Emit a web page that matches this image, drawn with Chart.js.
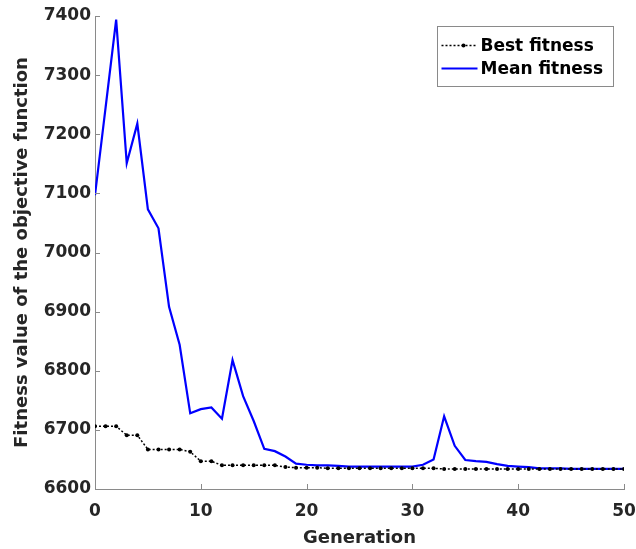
<!DOCTYPE html>
<html>
<head>
<meta charset="utf-8">
<script src="https://cdn.jsdelivr.net/npm/chart.js@4.4.0/dist/chart.umd.min.js"></script>
<style>
  html, body { margin: 0; padding: 0; background: #fff; }
  #wrap { width: 636px; height: 549px; }
</style>
</head>
<body>
<div id="wrap"><canvas id="fitChart" width="636" height="549"></canvas></div>
<script>
// Data
const generations = [];
for (let g = 0; g <= 50; g++) generations.push(g);

const bestFitness = [
  6706, 6706, 6706, 6691, 6691, 6667, 6667, 6667, 6667, 6663,
  6647, 6647, 6640, 6640, 6640, 6640, 6640, 6640, 6637, 6636,
  6636, 6636, 6635, 6635, 6635, 6635, 6635, 6635, 6635, 6635,
  6635, 6635, 6635, 6634, 6634, 6634, 6634, 6634, 6634, 6634,
  6634, 6634, 6634, 6634, 6634, 6634, 6634, 6634, 6634, 6634,
  6634
];

const meanFitness = [
  7097, 7245, 7394, 7151, 7218, 7073, 7041, 6908, 6844, 6728,
  6735, 6738, 6719, 6818, 6757, 6715, 6668, 6664, 6655, 6643,
  6641, 6640, 6640, 6639, 6638, 6638, 6638, 6638, 6638, 6638,
  6638, 6641, 6650, 6723, 6673, 6649, 6647, 6646, 6642, 6639,
  6638, 6637, 6635, 6635, 6635, 6634, 6634, 6634, 6634, 6634,
  6634
];

const xTicks = [0, 10, 20, 30, 40, 50];
const yTicks = [6600, 6700, 6800, 6900, 7000, 7100, 7200, 7300, 7400];

const textColor = '#262626';
const axisColor = '#8a8a8a';
const fontFamily = '"DejaVu Sans", sans-serif';

function toPoints(values) {
  return values.map((v, i) => ({ x: generations[i], y: v }));
}

// small inward tick marks, like the MATLAB axes
const inwardTicks = {
  id: 'inwardTicks',
  afterDatasetsDraw(chart) {
    const { ctx, chartArea, scales } = chart;
    ctx.save();
    ctx.strokeStyle = axisColor;
    ctx.lineWidth = 1;
    ctx.beginPath();
    xTicks.forEach(t => {
      const px = Math.round(scales.x.getPixelForValue(t)) + 0.5;
      ctx.moveTo(px, chartArea.bottom);
      ctx.lineTo(px, chartArea.bottom - 5);
    });
    yTicks.forEach(t => {
      const py = Math.round(scales.y.getPixelForValue(t)) + 0.5;
      ctx.moveTo(chartArea.left, py);
      ctx.lineTo(chartArea.left + 5, py);
    });
    ctx.stroke();
    ctx.restore();
  }
};

// boxed legend in the top right corner of the plot
const boxLegend = {
  id: 'boxLegend',
  afterDraw(chart) {
    const { ctx, chartArea } = chart;
    const boxW = 176, boxH = 60;
    const bx = Math.round(chartArea.right) - 186.5, by = Math.round(chartArea.top) + 10.5;
    ctx.save();
    ctx.fillStyle = '#fff';
    ctx.fillRect(bx, by, boxW, boxH);
    ctx.strokeStyle = axisColor;
    ctx.lineWidth = 1;
    ctx.strokeRect(bx, by, boxW, boxH);
    ctx.font = 'bold 17px ' + fontFamily;
    ctx.textBaseline = 'middle';
    chart.data.datasets.forEach((ds, i) => {
      const cy = by + 19 + i * 23;
      ctx.strokeStyle = ds.borderColor;
      ctx.lineWidth = ds.borderWidth;
      ctx.setLineDash(ds.borderDash || []);
      ctx.beginPath();
      ctx.moveTo(bx + 4, cy);
      ctx.lineTo(bx + 40, cy);
      ctx.stroke();
      ctx.setLineDash([]);
      if (ds.pointRadius > 0) {
        ctx.fillStyle = ds.pointBackgroundColor;
        ctx.beginPath();
        ctx.arc(bx + 26, cy, ds.pointRadius, 0, Math.PI * 2);
        ctx.fill();
      }
      ctx.fillStyle = '#000';
      ctx.fillText(ds.label, bx + 43, cy + 1);
    });
    ctx.restore();
  }
};

const ctx = document.getElementById('fitChart').getContext('2d');

const fitChart = new Chart(ctx, {
  type: 'line',
  data: {
    datasets: [
      {
        label: 'Best fitness',
        data: toPoints(bestFitness),
        borderColor: '#000',
        borderWidth: 1.5,
        borderDash: [2, 2],
        pointRadius: 2,
        pointBackgroundColor: '#000',
        pointBorderWidth: 0,
        tension: 0
      },
      {
        label: 'Mean fitness',
        data: toPoints(meanFitness),
        borderColor: '#0000ff',
        borderWidth: 2.2,
        pointRadius: 0,
        tension: 0
      }
    ]
  },
  options: {
    responsive: false,
    animation: false,
    layout: { padding: { top: 16, right: 12, bottom: 0, left: 0 } },
    scales: {
      x: {
        type: 'linear',
        min: 0,
        max: 50,
        afterFit: s => {
          s.height = 60;
          s.paddingLeft = 0;
          s.paddingRight = 0;
        },
        afterBuildTicks: s => { s.ticks = xTicks.map(v => ({ value: v })); },
        grid: { drawOnChartArea: false, drawTicks: false },
        border: { color: axisColor, width: 1 },
        ticks: {
          color: textColor,
          padding: 12,
          maxRotation: 0,
          callback: v => String(v),
          font: { family: fontFamily, size: 17, weight: 'bold' }
        },
        title: {
          display: true,
          text: 'Generation',
          color: textColor,
          padding: { top: 0, bottom: 0 },
          font: { family: fontFamily, size: 18, weight: 'bold' }
        }
      },
      y: {
        type: 'linear',
        min: 6600,
        max: 7400,
        afterFit: s => { s.width = 95; },
        afterBuildTicks: s => { s.ticks = yTicks.map(v => ({ value: v })); },
        grid: { drawOnChartArea: false, drawTicks: false },
        border: { color: axisColor, width: 1 },
        ticks: {
          color: textColor,
          padding: 4,
          callback: v => String(v),
          font: { family: fontFamily, size: 17, weight: 'bold' }
        },
        title: {
          display: true,
          text: 'Fitness value of the objective function',
          color: textColor,
          padding: { top: 12, bottom: 0 },
          font: { family: fontFamily, size: 18, weight: 'bold' }
        }
      }
    },
    plugins: {
      legend: { display: false },
      tooltip: { enabled: false }
    }
  },
  plugins: [inwardTicks, boxLegend]
});
</script>
</body>
</html>
